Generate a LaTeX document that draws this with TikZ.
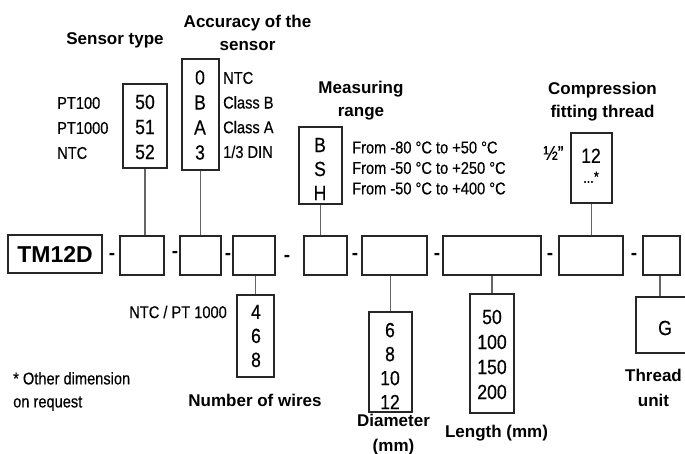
\documentclass[tikz,border=0pt]{standalone}
\usepackage{fontspec}
\setmainfont{Liberation Sans}[FakeStretch=0.86,FakeBold=0.4]
\newfontfamily\ttlfont{Liberation Sans}
\begin{document}
\begin{tikzpicture}[x=1pt,y=-1pt,
  box/.style={draw=black!85, line width=1.1pt, rectangle, inner sep=0pt},
  conn/.style={draw=black!60, line width=1.2pt},
  num/.style={font=\fontsize{20.5}{25}\selectfont, align=center, inner sep=0pt},
  numb/.style={font=\fontsize{20.5}{24}\selectfont, align=center, inner sep=0pt},
  lbl/.style={font=\fontsize{17}{25}\selectfont, align=left, inner sep=0pt},
  ttl/.style={font=\ttlfont\fontsize{17}{23}\selectfont\bfseries, align=center, inner sep=0pt},
  dsh/.style={font=\ttlfont\fontsize{19}{19}\selectfont\bfseries, inner sep=0pt, anchor=base},
]
\useasboundingbox[fill=white] (0,0) rectangle (685,454);

% main row
\node[box, minimum width=94pt, minimum height=38pt, font=\ttlfont\fontsize{23}{23}\selectfont\bfseries] (tm) at (55,254) {TM12D};
\node[box, minimum width=44pt, minimum height=39pt] (b1) at (142,255.5) {};
\node[box, minimum width=41pt, minimum height=39pt] (b2) at (200.5,255.5) {};
\node[box, minimum width=42pt, minimum height=39pt] (b3) at (254,255.5) {};
\node[box, minimum width=43pt, minimum height=39pt] (b4) at (325.5,255.5) {};
\node[box, minimum width=65pt, minimum height=39pt] (b5) at (394.5,255.5) {};
\node[box, minimum width=98pt, minimum height=39pt] (b6) at (492,255.5) {};
\node[box, minimum width=64pt, minimum height=39pt] (b7) at (591,255.5) {};
\node[box, minimum width=37pt, minimum height=39pt] (b8) at (661.5,255.5) {};

\node[dsh] (d1) at (112,259.5) {-};
\node[dsh] (d2) at (175,257.5) {-};
\node[dsh] (d3) at (228,259.5) {-};
\node[dsh] (d4) at (287,261.5) {-};
\node[dsh] (d5) at (355,259.5) {-};
\node[dsh] (d6) at (437,259.5) {-};
\node[dsh] (d7) at (550,259.5) {-};
\node[dsh] (d8) at (634,259.5) {-};

% upper boxes
\node[box, minimum width=44pt, minimum height=84pt] (st) at (145,126) {};
\node[num] (stt) at (145,127) {50\\51\\52};
\node[box, minimum width=37pt, minimum height=111pt] (acc) at (200.5,114.5) {};
\node[num] (acct) at (200,115) {0\\B\\A\\3};
\node[box, minimum width=43pt, minimum height=77pt] (rng) at (320.5,165.5) {};
\node[numb] (rngt) at (320,169) {B\\S\\H};
\node[box, minimum width=41pt, minimum height=70pt] (cft) at (591.5,168) {};
\node[num] (cftt) at (591,165.7) {12\\[-5pt]{\fontsize{15}{15}\selectfont...\raisebox{1pt}{*}}};

% lower boxes
\node[box, minimum width=37pt, minimum height=82pt] (wir) at (255.5,336) {};
\node[numb] (wirt) at (256,336) {4\\6\\8};
\node[box, minimum width=43pt, minimum height=100pt] (dia) at (390.5,362) {};
\node[numb] (diat) at (390,366) {6\\8\\10\\12};
\node[box, minimum width=44pt, minimum height=119pt] (len) at (492,353.5) {};
\node[num] (lent) at (492,354.5) {50\\100\\150\\200};
\node[box, minimum width=64pt, minimum height=56pt] (gb) at (668,325) {};
\node[num] (gbt) at (665,328) {G};

% connectors
\draw[conn] (st.south) -- (st.south |- b1.north);
\draw[conn] (acc.south) -- (acc.south |- b2.north);
\draw[conn] (rng.south) -- (rng.south |- b4.north);
\draw[conn] (cft.south) -- (cft.south |- b7.north);
\draw[conn] (wir.north |- b3.south) -- (wir.north);
\draw[conn] (dia.north |- b5.south) -- (dia.north);
\draw[conn] (len.north |- b6.south) -- (len.north);
\draw[conn] (b8.south -| 660,0) -- (gb.north -| 660,0);

% side labels
\node[lbl, anchor=west] (stl) at (57,128) {PT100\\PT1000\\NTC};
\node[lbl, anchor=west, font=\fontsize{17}{24.7}\selectfont] (accl) at (223,115) {NTC\\Class B\\Class A\\1/3 DIN};
\node[lbl, anchor=west, font=\fontsize{17}{20.5}\selectfont] (rngl) at (352,168) {From -80 °C to +50 °C\\From -50 °C to +250 °C\\From -50 °C to +400 °C};
\node[lbl, font=\fontsize{20}{20}\selectfont] (half) at (553.5,153) {½"};
\node[lbl, anchor=east] (ntcl) at (227,312) {NTC / PT 1000};
\node[lbl, anchor=west, font=\fontsize{17}{23}\selectfont] (note) at (13,391.5) {* Other dimension\\on request};

% titles
\node[ttl, anchor=base] (t1) at (115,45) {Sensor type};
\node[ttl] (t2) at (247.5,33) {Accuracy of the\\sensor};
\node[ttl] (t3) at (361,101) {Measuring\\range};
\node[ttl] (t4) at (602.5,102) {Compression\\fitting thread};
\node[ttl, anchor=base] (t5) at (255,406) {Number of wires};
\node[ttl, font=\ttlfont\fontsize{17}{25}\selectfont\bfseries] (t6) at (393.5,434.5) {Diameter\\(mm)};
\node[ttl] (t7) at (496.5,433) {Length (mm)};
\node[ttl, font=\ttlfont\fontsize{17}{25}\selectfont\bfseries] (t8) at (653.5,387.5) {Thread\\unit};
\end{tikzpicture}
\end{document}
